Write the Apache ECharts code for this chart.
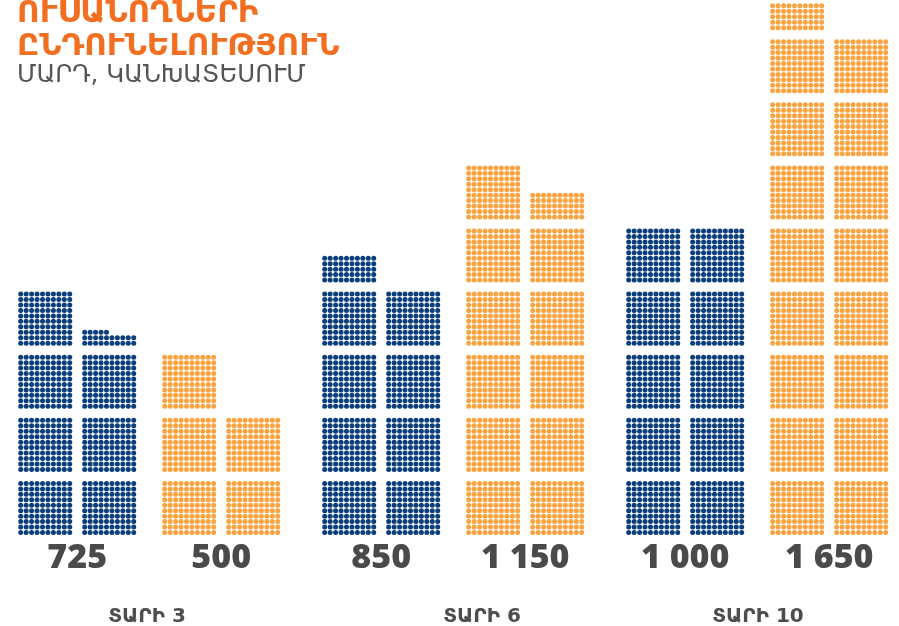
<!DOCTYPE html>
<html><head><meta charset="utf-8">
<script src="https://cdn.jsdelivr.net/npm/echarts@6/dist/echarts.min.js"></script>
<style>html,body{margin:0;padding:0;background:#fff}#c{width:899px;height:626px}</style>
</head><body><div id="c"></div>
<script>
// ---- data ----
const years = ['ՏԱՐԻ 3', 'ՏԱՐԻ 6', 'ՏԱՐԻ 10'];
const blueValues = [725, 850, 1000];
const orangeValues = [500, 1150, 1650];
const titleLines = ['ՈՒՍԱՆՈՂՆԵՐԻ', 'ԸՆԴՈՒՆԵԼՈՒԹՅՈՒՆ', 'ՄԱՐԴ, ԿԱՆԽԱՏԵՍՈՒՄ'];

// ---- layout (units = one dot pitch) ----
const PER_BLOCK = 100, BLOCK_COLS = 10;
const GROUP_STEP = 55.78;
const COL_OFF = [0, 11.74, 26.42, 38.17];
const BLOCK_STEP_Y = 11.58;
const VALUE_Y = -4.68;
const YEAR_LABEL_PX = [147, 482, 758];

function fmt(v) { return String(v).replace(/\B(?=(\d{3})+(?!\d))/g, ' '); }

function dots(value, g, pairIdx) {
  const out = [];
  const full = Math.floor(value / PER_BLOCK), rem = value % PER_BLOCK;
  const put = (b, n) => {
    const col = b % 2, lvl = Math.floor(b / 2);
    const x0 = g * GROUP_STEP + COL_OFF[pairIdx * 2 + col];
    const y0 = lvl * BLOCK_STEP_Y;
    for (let k = 0; k < n; k++) {
      const r = Math.floor(k / BLOCK_COLS), c = k % BLOCK_COLS;
      out.push([x0 + c, y0 + r]);
    }
  };
  for (let b = 0; b < full; b++) put(b, PER_BLOCK);
  if (rem) put(full, rem);
  return out;
}

const blueDots = [], orangeDots = [], labelPts = [];
years.forEach((y, g) => {
  blueDots.push(...dots(blueValues[g], g, 0));
  orangeDots.push(...dots(orangeValues[g], g, 1));
  labelPts.push({ value: [g * GROUP_STEP + (COL_OFF[0] + COL_OFF[1] + 9) / 2, VALUE_Y], name: fmt(blueValues[g]) });
  labelPts.push({ value: [g * GROUP_STEP + (COL_OFF[2] + COL_OFF[3] + 9) / 2, VALUE_Y], name: fmt(orangeValues[g]) });
});

const chart = echarts.init(document.getElementById('c'));
chart.setOption({
  animation: false,
  grid: { left: 0, right: 0, top: 0, bottom: 0 },
  xAxis: { type: 'value', min: -3.8, max: 161.16, show: false },
  yAxis: { type: 'value', min: -17.16, max: 97.71, show: false },
  series: [
    { type: 'scatter', data: blueDots, symbol: 'circle', symbolSize: 5, itemStyle: { color: '#0a3f7c', opacity: 1 }, silent: true },
    { type: 'scatter', data: orangeDots, symbol: 'circle', symbolSize: 5, itemStyle: { color: '#f9a440', opacity: 1 }, silent: true },
    { type: 'scatter', data: labelPts, symbolSize: 0, silent: true, itemStyle: { opacity: 1 },
      label: { show: true, position: 'inside', formatter: p => p.name, opacity: 1,
        fontFamily: 'Open Sans', fontWeight: 800, fontSize: 34, color: '#4a4a4a' } }
  ],
  graphic: [
    { type: 'text', left: 17, top: -2, style: { text: titleLines[0], fill: '#f26f21', font: 'bold 31px "DejaVu Sans"' } },
    { type: 'text', left: 17, top: 31, style: { text: titleLines[1], fill: '#f26f21', font: 'bold 31px "DejaVu Sans"' } },
    { type: 'text', left: 17, top: 63, style: { text: titleLines[2], fill: '#555', font: '24.5px "DejaVu Sans"' } },
    ...years.map((t, i) => ({ type: 'text', x: YEAR_LABEL_PX[i], y: 617,
      style: { text: t, fill: '#4d4d4d', font: 'bold 20px "DejaVu Sans"', textAlign: 'center', textVerticalAlign: 'middle' } }))
  ]
});
</script></body></html>
